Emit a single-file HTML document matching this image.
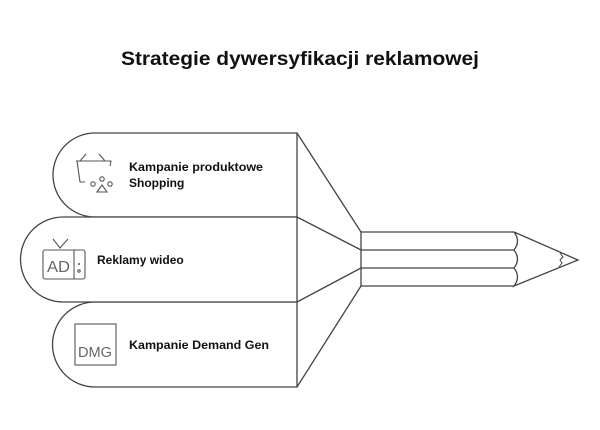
<!DOCTYPE html>
<html><head><meta charset="utf-8"><style>
html,body{margin:0;padding:0;background:#fff;}
svg{display:block;font-family:"Liberation Sans",sans-serif;}
</style></head><body>
<svg width="600" height="430" viewBox="0 0 600 430" xmlns="http://www.w3.org/2000/svg">
<rect width="600" height="430" fill="#fff"/>
<text x="300" y="65" text-anchor="middle" font-size="19" font-weight="bold" fill="#111" textLength="358" lengthAdjust="spacingAndGlyphs">Strategie dywersyfikacji reklamowej</text>
<g fill="#fff" stroke="#444" stroke-width="1.3">
<path d="M95 133 H297 V217 H95 A42 42 0 0 1 95 133 Z"/>
<path d="M95 302 H297 V387 H95 A42.5 42.5 0 0 1 95 302 Z"/>
<path d="M63 217 H297 V302 H63 A42.5 42.5 0 0 1 63 217 Z"/>
<path d="M297 133 L361 232 M297 217 L361 250 M297 302 L361 268 M297 387 L361 286" fill="none"/>
<path d="M361 232 V286 M361 232 H514 M361 250 H514 M361 268 H514 M361 286 H514" fill="none"/>
<path d="M514 232 Q521 241 514 250 Q521 259 514 268 Q521 277 514 286 L578 260 Z" fill="none"/>
<path d="M560 253 L563 257 L560 260 L562 263 L559 267" fill="none" stroke-width="1"/>
</g>
<g font-weight="bold" font-size="12" fill="#111">
<text x="129" y="171" textLength="134" lengthAdjust="spacingAndGlyphs">Kampanie produktowe</text>
<text x="129" y="187">Shopping</text>
<text x="97" y="264">Reklamy wideo</text>
<text x="129" y="349" textLength="140" lengthAdjust="spacingAndGlyphs">Kampanie Demand Gen</text>
</g>
<g fill="none" stroke="#555" stroke-width="1.1">
<path d="M86 154 L80 161 M99 154 L105 161 M76 161 H111 L110 166 M77 161 L80 182 H85"/>
<circle cx="93" cy="184" r="2.2"/><circle cx="102" cy="179" r="2.2"/><circle cx="110" cy="184" r="2.2"/>
<path d="M102 185 L97 192 H107 Z"/>
<path d="M53 239 L60 248 L68 239"/>
<rect x="43" y="250" width="42" height="29" rx="2"/>
<path d="M74 250 V279"/>
<circle cx="79" cy="271" r="1.2"/>
<circle cx="79" cy="264" r="0.5"/>
<text x="47" y="272" font-size="16" fill="#666" stroke="none" textLength="23" lengthAdjust="spacingAndGlyphs">AD</text>
<rect x="75" y="324" width="41" height="41"/>
<text x="78" y="357" font-size="15" fill="#666" stroke="none" textLength="34" lengthAdjust="spacingAndGlyphs">DMG</text>
</g>
</svg>
</body></html>
